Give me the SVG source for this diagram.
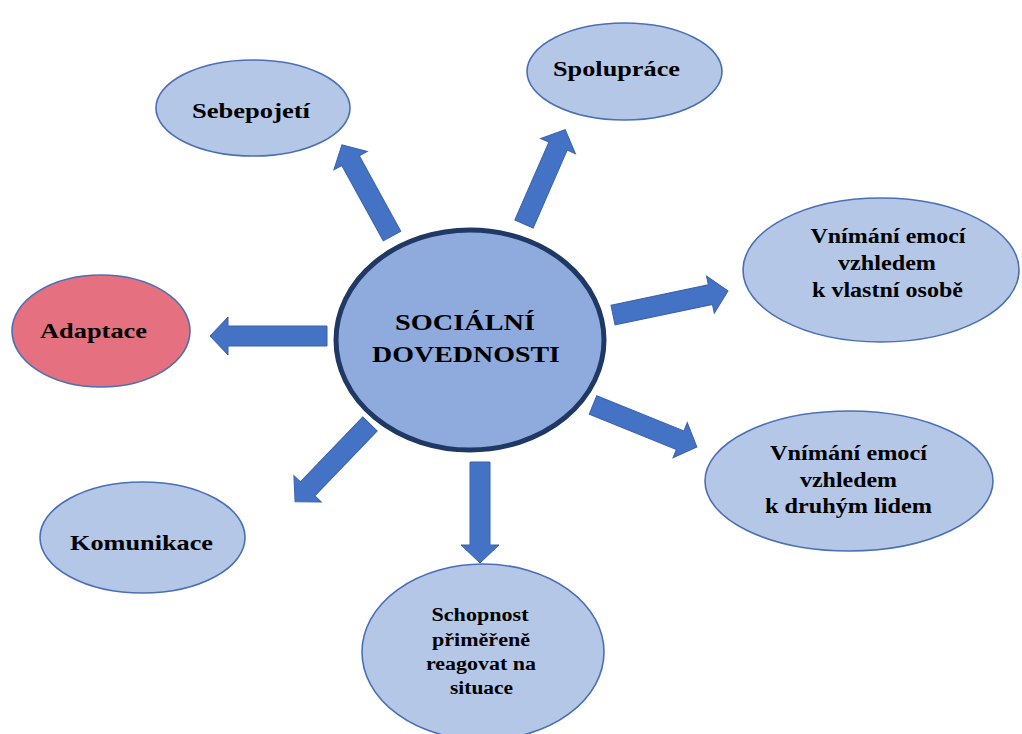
<svg xmlns="http://www.w3.org/2000/svg" width="1022" height="734" viewBox="0 0 1022 734">
<style>
.node{fill:#B4C7E7;stroke:#4A6FB5;stroke-width:1.6}
.center{fill:#8FAADC;stroke:#1F3864;stroke-width:5}
.red{fill:#E5707F;stroke:#4A6FB5;stroke-width:1.6}
.arrow{fill:#4472C4;stroke:#3A62AD;stroke-width:1}
text{font-family:"Liberation Serif","Times New Roman",serif;font-weight:bold;fill:#000;text-anchor:middle}
.t22{font-size:22px}
.t20{font-size:20px}
.t18{font-size:18px}
.t24{font-size:24px}
</style>
<rect width="1022" height="734" fill="#fff"/>
<g id="connectors">
<path class="arrow" transform="translate(327,336) rotate(180)" d="M0,-10 L99,-10 L99,-19 L117,0 L99,19 L99,10 L0,10 Z"/>
<path class="arrow" transform="translate(392,236) rotate(-118.8)" d="M0,-10 L86,-10 L86,-19 L104,0 L86,19 L86,10 L0,10 Z"/>
<path class="arrow" transform="translate(524,224) rotate(-66.4)" d="M0,-10 L85,-10 L85,-19 L103,0 L85,19 L85,10 L0,10 Z"/>
<path class="arrow" transform="translate(613,315) rotate(-11.8)" d="M0,-10 L99.5,-10 L99.5,-19 L117.5,0 L99.5,19 L99.5,10 L0,10 Z"/>
<path class="arrow" transform="translate(593,405) rotate(22)" d="M0,-10 L94,-10 L94,-19 L112,0 L94,19 L94,10 L0,10 Z"/>
<path class="arrow" transform="translate(480,462) rotate(90)" d="M0,-10 L83,-10 L83,-19 L101,0 L83,19 L83,10 L0,10 Z"/>
<path class="arrow" transform="translate(370,424) rotate(133.9)" d="M0,-10 L90,-10 L90,-19 L108,0 L90,19 L90,10 L0,10 Z"/>
</g>
<g id="node-center">
<ellipse class="center" cx="470" cy="340" rx="134" ry="110"/>
<text class="t24" x="465" y="330" textLength="140" lengthAdjust="spacingAndGlyphs">SOCIÁLNÍ</text>
<text class="t24" x="466" y="362" textLength="188" lengthAdjust="spacingAndGlyphs">DOVEDNOSTI</text>
</g>
<g id="node-sebepojeti">
<ellipse class="node" cx="253" cy="108" rx="97" ry="48"/>
<text class="t22" x="251" y="118" textLength="118" lengthAdjust="spacingAndGlyphs">Sebepojetí</text>
</g>
<g id="node-spoluprace">
<ellipse class="node" cx="624.5" cy="71.5" rx="97.5" ry="48.5"/>
<text class="t22" x="616.5" y="76" textLength="127" lengthAdjust="spacingAndGlyphs">Spolupráce</text>
</g>
<g id="node-vnimani-vlastni">
<ellipse class="node" cx="881" cy="270" rx="138" ry="72"/>
<text class="t20" x="888" y="243" textLength="155" lengthAdjust="spacingAndGlyphs">Vnímání emocí</text>
<text class="t20" x="887" y="270" textLength="98" lengthAdjust="spacingAndGlyphs">vzhledem</text>
<text class="t20" x="887.5" y="297" textLength="151" lengthAdjust="spacingAndGlyphs">k vlastní osobě</text>
</g>
<g id="node-vnimani-druhym">
<ellipse class="node" cx="849" cy="481" rx="144" ry="70"/>
<text class="t20" x="848.5" y="460" textLength="157" lengthAdjust="spacingAndGlyphs">Vnímání emocí</text>
<text class="t20" x="848.5" y="487" textLength="97" lengthAdjust="spacingAndGlyphs">vzhledem</text>
<text class="t20" x="848.5" y="513" textLength="167" lengthAdjust="spacingAndGlyphs">k druhým lidem</text>
</g>
<g id="node-schopnost">
<ellipse class="node" cx="483" cy="652" rx="121" ry="88"/>
<text class="t18" x="480" y="621" textLength="97" lengthAdjust="spacingAndGlyphs">Schopnost</text>
<text class="t18" x="481" y="646" textLength="98" lengthAdjust="spacingAndGlyphs">přiměřeně</text>
<text class="t18" x="481" y="670" textLength="110" lengthAdjust="spacingAndGlyphs">reagovat na</text>
<text class="t18" x="481.5" y="694" textLength="63" lengthAdjust="spacingAndGlyphs">situace</text>
</g>
<g id="node-komunikace">
<ellipse class="node" cx="142.5" cy="537.5" rx="102.5" ry="55.5"/>
<text class="t22" x="141.5" y="550" textLength="143" lengthAdjust="spacingAndGlyphs">Komunikace</text>
</g>
<g id="node-adaptace">
<ellipse class="red" cx="101" cy="331" rx="89" ry="56"/>
<text class="t22" x="93.5" y="338" textLength="107" lengthAdjust="spacingAndGlyphs">Adaptace</text>
</g>
</svg>
